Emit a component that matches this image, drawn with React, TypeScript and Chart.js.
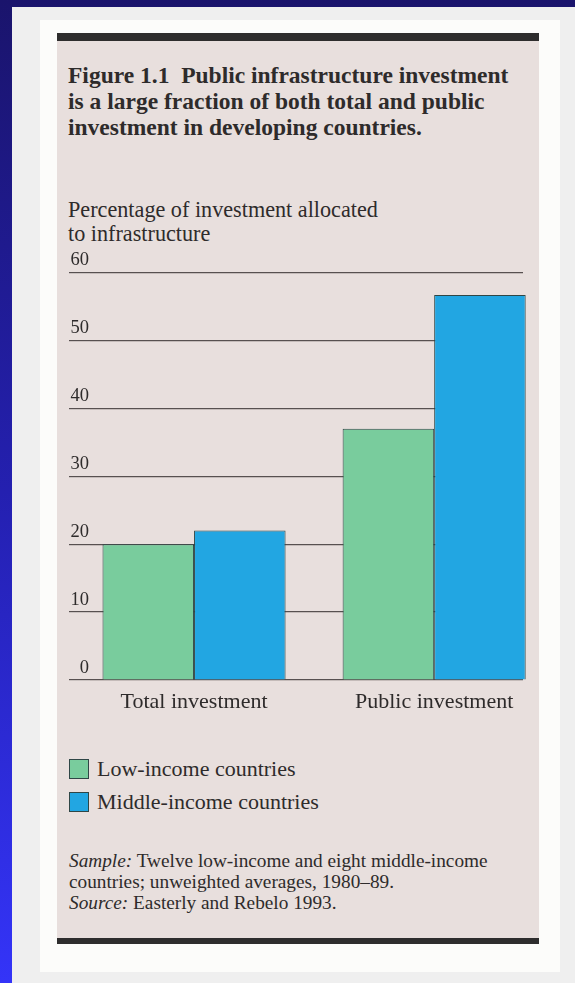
import React, { useEffect, useRef } from "react";
import { Chart, registerables } from "chart.js";

Chart.register(...registerables);

const CATEGORIES = ["Total investment", "Public investment"];
const LOW_INCOME = [20, 37];
const MIDDLE_INCOME = [22, 56.7];
const Y_TICKS = [0, 10, 20, 30, 40, 50, 60];
const SERIES_NAMES = ["Low-income countries", "Middle-income countries"];
const TITLE_LINES = [
  "Figure 1.1\u00a0 Public infrastructure investment",
  "is a large fraction of both total and public",
  "investment in developing countries.",
];
const AXIS_TITLE_LINES = ["Percentage of investment allocated", "to infrastructure"];

const GREEN = "#79cc9d";
const BLUE = "#22a6e2";
const EDGE = "#2f4646";
const INK = "#2e2b2b";
const SERIF = '"Liberation Serif", "Times New Roman", serif';

export default function App() {
  const ref = useRef<HTMLCanvasElement>(null);

  useEffect(() => {
    const canvas = ref.current;
    if (!canvas) return;
    const chart = new Chart(canvas, {
      type: "bar",
      data: {
        datasets: [
          {
            label: SERIES_NAMES[0],
            data: LOW_INCOME.map((v, i) => ({ x: i, y: v })),
            backgroundColor: GREEN,
            borderColor: EDGE,
            borderWidth: 1,
            categoryPercentage: 0.7625,
            barPercentage: 1,
            clip: false,
          },
          {
            label: SERIES_NAMES[1],
            data: MIDDLE_INCOME.map((v, i) => ({ x: i, y: v })),
            backgroundColor: BLUE,
            borderColor: EDGE,
            borderWidth: 1,
            categoryPercentage: 0.7625,
            barPercentage: 1,
            clip: false,
          },
        ],
      },
      options: {
        responsive: false,
        animation: false,
        devicePixelRatio: 1,
        layout: { padding: { left: 8, right: 16, top: 22.5, bottom: 0 } },
        plugins: { legend: { display: false }, tooltip: { enabled: false } },
        scales: {
          x: {
            type: "linear",
            offset: false,
            min: -0.4333,
            max: 1.37,
            grid: { display: false },
            border: { display: false },
            afterBuildTicks: (s: any) => {
              s.ticks = CATEGORIES.map((_, i) => ({ value: i }));
            },
            afterFit: (s: any) => {
              s.height = 50;
            },
            ticks: {
              autoSkip: false,
              maxRotation: 0,
              padding: 1,
              color: INK,
              font: { family: SERIF, size: 22 },
              callback: (v: any) => CATEGORIES[v] ?? "",
            },
          },
          y: {
            min: 0,
            max: 60,
            afterBuildTicks: (s: any) => {
              s.ticks = Y_TICKS.map((v) => ({ value: v }));
            },
            afterFit: (s: any) => {
              s.width = 25;
            },
            grid: { color: "#575050", tickColor: "#575050", lineWidth: 1.2, drawTicks: true, tickLength: 21 },
            border: { display: false },
            ticks: {
              crossAlign: "near",
              padding: -20,
              labelOffset: -12,
              color: INK,
              font: { family: SERIF, size: 18.5 },
            },
          },
        },
      },
    } as any);
    return () => chart.destroy();
  }, []);

  const abs = (s: React.CSSProperties): React.CSSProperties => ({ position: "absolute", ...s });

  return (
    <div
      style={abs({
        left: 0,
        top: 0,
        width: 575,
        height: 983,
        overflow: "hidden",
        background: "linear-gradient(to bottom, #1a146c 0%, #2420b0 50%, #3434f8 100%)",
        fontFamily: SERIF,
        color: INK,
      })}
    >
      <div style={abs({ left: 12, top: 7, right: 0, bottom: 0, background: "#efefef" })} />
      <div style={abs({ left: 40, top: 20, width: 520, height: 952, background: "#fcfcfa" })} />
      <div
        style={abs({
          left: 57,
          top: 33,
          width: 482,
          height: 911,
          boxSizing: "border-box",
          background: "#e8dfdd",
          borderTop: "8px solid #2e2d2d",
          borderBottom: "6px solid #2e2d2d",
        })}
      />
      <div style={abs({ left: 68, top: 62, fontSize: 23.5, fontWeight: "bold", lineHeight: "26px", whiteSpace: "nowrap" })}>
        {TITLE_LINES.map((t, i) => (
          <div key={i}>{t}</div>
        ))}
      </div>
      <div style={abs({ left: 68, top: 198, fontSize: 22.2, lineHeight: "23.5px", whiteSpace: "nowrap" })}>
        {AXIS_TITLE_LINES.map((t, i) => (
          <div key={i}>{t}</div>
        ))}
      </div>
      <canvas ref={ref} width={482} height={480} style={abs({ left: 57, top: 250, width: 482, height: 480 })} />
      {SERIES_NAMES.map((name, i) => (
        <div key={name} style={abs({ left: 69, top: 759 + i * 33, height: 20, display: "flex", alignItems: "center", whiteSpace: "nowrap" })}>
          <div
            style={{
              width: 20,
              height: 20,
              boxSizing: "border-box",
              background: i === 0 ? GREEN : BLUE,
              border: `1px solid ${EDGE}`,
              marginRight: 8,
              flex: "none",
            }}
          />
          <span style={{ fontSize: 22 }}>{name}</span>
        </div>
      ))}
      <div style={abs({ left: 69, top: 851, fontSize: 19.3, lineHeight: "20.8px", whiteSpace: "nowrap" })}>
        <div>
          <i>Sample:</i> Twelve low-income and eight middle-income
        </div>
        <div>countries; unweighted averages, 1980–89.</div>
        <div>
          <i>Source:</i> Easterly and Rebelo 1993.
        </div>
      </div>
    </div>
  );
}
